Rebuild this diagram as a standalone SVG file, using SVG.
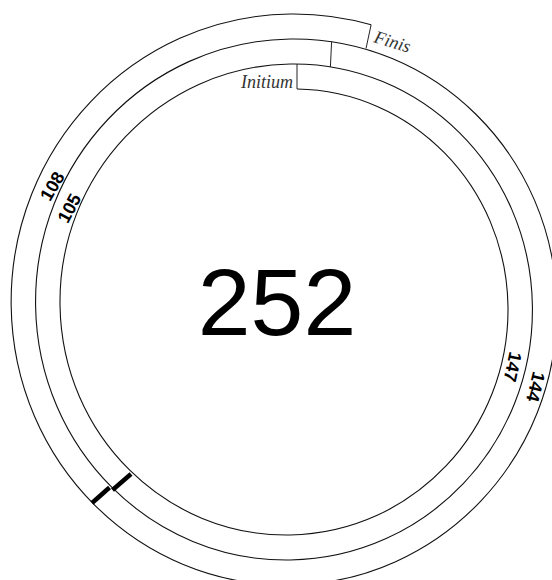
<svg xmlns="http://www.w3.org/2000/svg" width="552" height="580" viewBox="0 0 552 580">
<style>
.ln{fill:none;stroke:#111;stroke-width:1.1;vector-effect:non-scaling-stroke}
.tk{fill:none;stroke:#222;stroke-width:1}
.th{fill:none;stroke:#000;stroke-width:4.5;stroke-linecap:butt}
.lab{font-family:"Liberation Serif",serif;font-style:italic;font-size:18px;fill:#333}
.num{font-family:"Liberation Sans",Arial,sans-serif;font-weight:bold;font-size:18px;fill:#000}
.big{font-family:"Liberation Sans",Arial,sans-serif;font-size:95px;fill:#000}
</style>
<rect width="552" height="580" fill="#fff"/>
<g id="spiral" transform="translate(290.1,305.75) scale(0.977,1)">
<path class="ln" d="M 7.05,-216.77 C 123.98,-215.11 220.86,-120.22 223,0 C 225.20,123.16 126.61,227.05 0,229.25 C -126.61,231.45 -233.30,130.06 -235.5,0 C -237.70,-130.06 -133.52,-239.55 0,-241.75 C 133.52,-243.95 245.80,-136.97 248,0 C 250.20,136.97 140.42,252.05 0,254.25 C -140.42,256.45 -258.30,143.87 -260.5,0 C -262.70,-143.87 -147.32,-264.55 0,-266.75 C 147.32,-268.95 270.80,-150.78 273,0 C 275.20,150.78 154.23,277.05 0,279.25 C -154.23,281.45 -283.30,157.68 -285.5,0 C -287.70,-157.68 -161.13,-289.55 0,-291.75 C 27.96,-292.13 55.89,-288.49 82.92,-280.91"/>
</g>
<g id="ticks">
<line class="tk" x1="297" y1="64" x2="297" y2="89"/>
<line class="tk" x1="331.6" y1="41.8" x2="330.4" y2="67"/>
<line class="tk" x1="371.1" y1="24.8" x2="366" y2="48.5"/>
<line class="th" x1="92" y1="503" x2="109.5" y2="487.5"/>
<line class="th" x1="112.5" y1="490" x2="131" y2="474"/>
</g>
<g id="labels">
<text class="lab" x="293" y="88" text-anchor="end">Initium</text>
<text class="lab" transform="translate(373,42) rotate(17)">Finis</text>
<text class="big" x="277" y="335" text-anchor="middle">252</text>
<text class="num" transform="translate(52,186) rotate(-60)" y="6.5" text-anchor="middle">108</text>
<text class="num" transform="translate(69,208) rotate(-62)" y="6.5" text-anchor="middle">105</text>
<text class="num" transform="translate(513,367) rotate(102)" y="6.5" text-anchor="middle">147</text>
<text class="num" transform="translate(536,387) rotate(104)" y="6.5" text-anchor="middle">144</text>
</g>
</svg>
